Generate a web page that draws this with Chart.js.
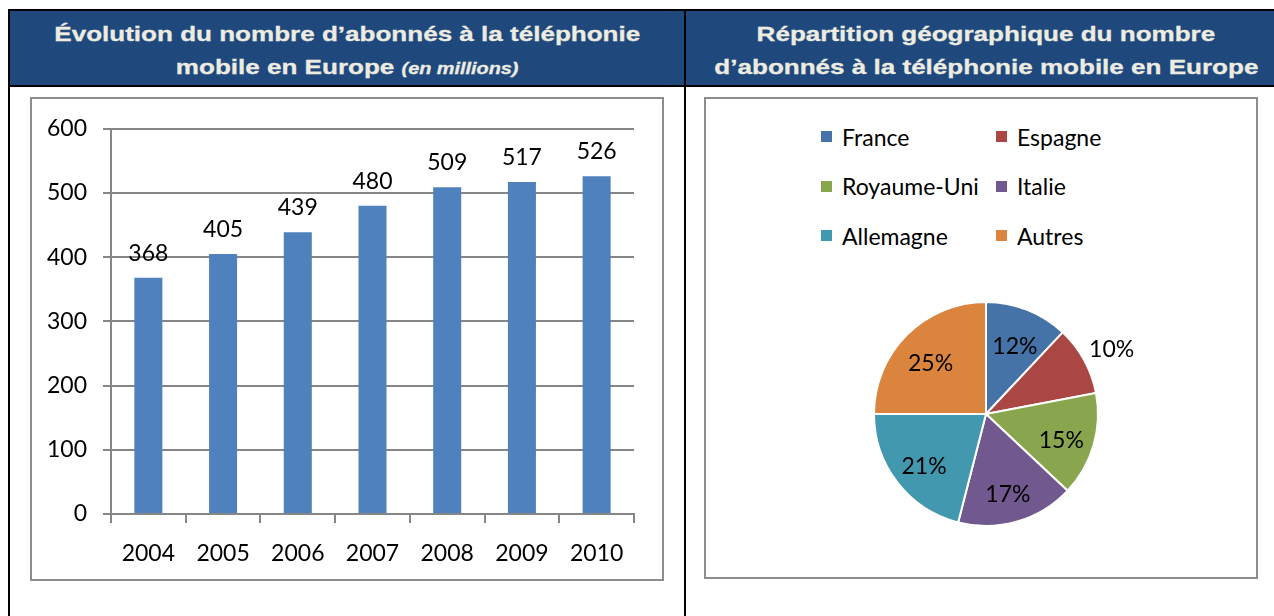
<!DOCTYPE html>
<html>
<head>
<meta charset="utf-8">
<script src="https://cdn.jsdelivr.net/npm/chart.js@4.4.0/dist/chart.umd.min.js"></script>
<style>
  body { margin: 0; width: 1274px; height: 616px; overflow: hidden; background: #fff; position: relative; font-family: Lato, sans-serif; }
  .abs { position: absolute; }
  #frame { left: 8px; top: 9px; width: 1280px; height: 700px; border: 2px solid #000; box-sizing: border-box; }
  #band { left: 10px; top: 11px; width: 1276px; height: 74px; background: #1F497D; }
  #hline { left: 8px; top: 85px; width: 1280px; height: 2px; background: #000; }
  #vline { left: 684px; top: 9px; width: 2px; height: 700px; background: #000; }
  .head { top: 17px; color: #EEECE1; font: bold 21px "Liberation Sans", Arial, sans-serif; text-align: center; line-height: 33px; -webkit-text-stroke: 0.3px #EEECE1; }
  .head .s { display: inline-block; transform: scaleX(1.24); white-space: nowrap; }
  .head i { font-size: 16px; }
  .box { border: 2px solid #8C8C8C; box-sizing: border-box; }
  #legend { left: 821px; top: 112px; display: grid; grid-template-columns: 175px 175px; grid-auto-rows: 49.5px; }
  #legend .item { display: flex; align-items: center; font-size: 23px; color: #000; white-space: nowrap; }
  #legend .sw { width: 11px; height: 11px; margin-right: 10px; flex: none; }
</style>
</head>
<body>
<div id="frame" class="abs"></div>
<div id="band" class="abs"></div>
<div id="hline" class="abs"></div>
<div id="vline" class="abs"></div>

<div class="abs head" style="left:10px;width:674px">
  <div><span class="s">Évolution du nombre d’abonnés à la téléphonie</span></div>
  <div><span class="s">mobile en Europe <i>(en millions)</i></span></div>
</div>
<div class="abs head" style="left:686px;width:600px">
  <div><span class="s">Répartition géographique du nombre</span></div>
  <div><span class="s">d’abonnés à la téléphonie mobile en Europe</span></div>
</div>

<div class="abs box" style="left:30px;top:97px;width:634px;height:484px"></div>
<div class="abs box" style="left:704px;top:97px;width:554px;height:482px"></div>

<canvas id="bars" class="abs" width="630" height="480" style="left:32px;top:99px"></canvas>
<div id="legend" class="abs"></div>
<canvas id="pie" class="abs" width="320" height="320" style="left:826px;top:254px"></canvas>

<script>
// Subscribers per year (millions)
const years = ['2004', '2005', '2006', '2007', '2008', '2009', '2010'];
const subscribers = [368, 405, 439, 480, 509, 517, 526];
const yMin = 0, yMax = 600, yStep = 100;

// Geographic split (%)
const regions = ['France', 'Espagne', 'Royaume-Uni', 'Italie', 'Allemagne', 'Autres'];
const shares = [12, 10, 15, 17, 21, 25];
const regionColors = ['#4572A7', '#AA4643', '#89A54E', '#71588F', '#4198AF', '#DB843D'];

const tickFont = { family: 'Lato', size: 23 };
const gray = '#868686';

// value labels above bars
const valueLabels = {
  id: 'valueLabels',
  afterDatasetsDraw(chart) {
    const ctx = chart.ctx;
    ctx.save();
    ctx.font = '23px Lato';
    ctx.fillStyle = '#000';
    ctx.textAlign = 'center';
    ctx.textBaseline = 'alphabetic';
    chart.getDatasetMeta(0).data.forEach((bar, i) => {
      ctx.fillText(String(subscribers[i]), bar.x, bar.y - 17);
    });
    ctx.restore();
  }
};

// percent labels on slices, small slices go outside
const pctLabels = {
  id: 'pctLabels',
  afterDatasetsDraw(chart) {
    const ctx = chart.ctx;
    ctx.save();
    ctx.font = '23px Lato';
    ctx.fillStyle = '#000';
    ctx.textAlign = 'center';
    ctx.textBaseline = 'middle';
    chart.getDatasetMeta(0).data.forEach((arc, i) => {
      const p = arc.getProps(['x', 'y', 'startAngle', 'endAngle', 'outerRadius']);
      const mid = (p.startAngle + p.endAngle) / 2;
      const r = shares[i] <= 10 ? p.outerRadius * 1.28 : p.outerRadius * 0.7;
      ctx.fillText(shares[i] + '%', p.x + Math.cos(mid) * r, p.y + Math.sin(mid) * r + 5);
    });
    ctx.restore();
  }
};

function draw() {
  new Chart(document.getElementById('bars'), {
    type: 'bar',
    data: {
      labels: years,
      datasets: [{ data: subscribers, backgroundColor: '#4F81BD', barPercentage: 0.375, categoryPercentage: 1 }]
    },
    options: {
      responsive: false,
      animation: false,
      devicePixelRatio: 1,
      layout: { padding: { top: 26, right: 28, left: 0, bottom: 0 } },
      plugins: { legend: { display: false }, tooltip: { enabled: false } },
      scales: {
        x: {
          grid: { drawOnChartArea: false, color: gray, lineWidth: 2, tickLength: 9, offset: true },
          border: { color: gray, width: 2 },
          ticks: { color: '#000', font: tickFont, padding: 17 },
          afterFit(s) { s.height = 65; }
        },
        y: {
          min: yMin, max: yMax,
          ticks: { stepSize: yStep, color: '#000', font: tickFont, padding: 16 },
          grid: { color: gray, lineWidth: 2, tickLength: 8 },
          border: { color: gray, width: 2 },
          afterFit(s) { s.width = 79; }
        }
      }
    },
    plugins: [valueLabels]
  });

  // legend in two columns
  const legend = document.getElementById('legend');
  regions.forEach((name, i) => {
    const item = document.createElement('div');
    item.className = 'item';
    item.innerHTML = '<span class="sw" style="background:' + regionColors[i] + '"></span>' + name;
    legend.appendChild(item);
  });

  new Chart(document.getElementById('pie'), {
    type: 'pie',
    data: {
      labels: regions,
      datasets: [{ data: shares, backgroundColor: regionColors, borderColor: '#fff', borderWidth: 2 }]
    },
    options: {
      responsive: false,
      animation: false,
      devicePixelRatio: 1,
      layout: { padding: 47 },
      plugins: { legend: { display: false }, tooltip: { enabled: false } }
    },
    plugins: [pctLabels]
  });
}

document.fonts.load('23px Lato').then(draw, draw);
</script>
</body>
</html>
